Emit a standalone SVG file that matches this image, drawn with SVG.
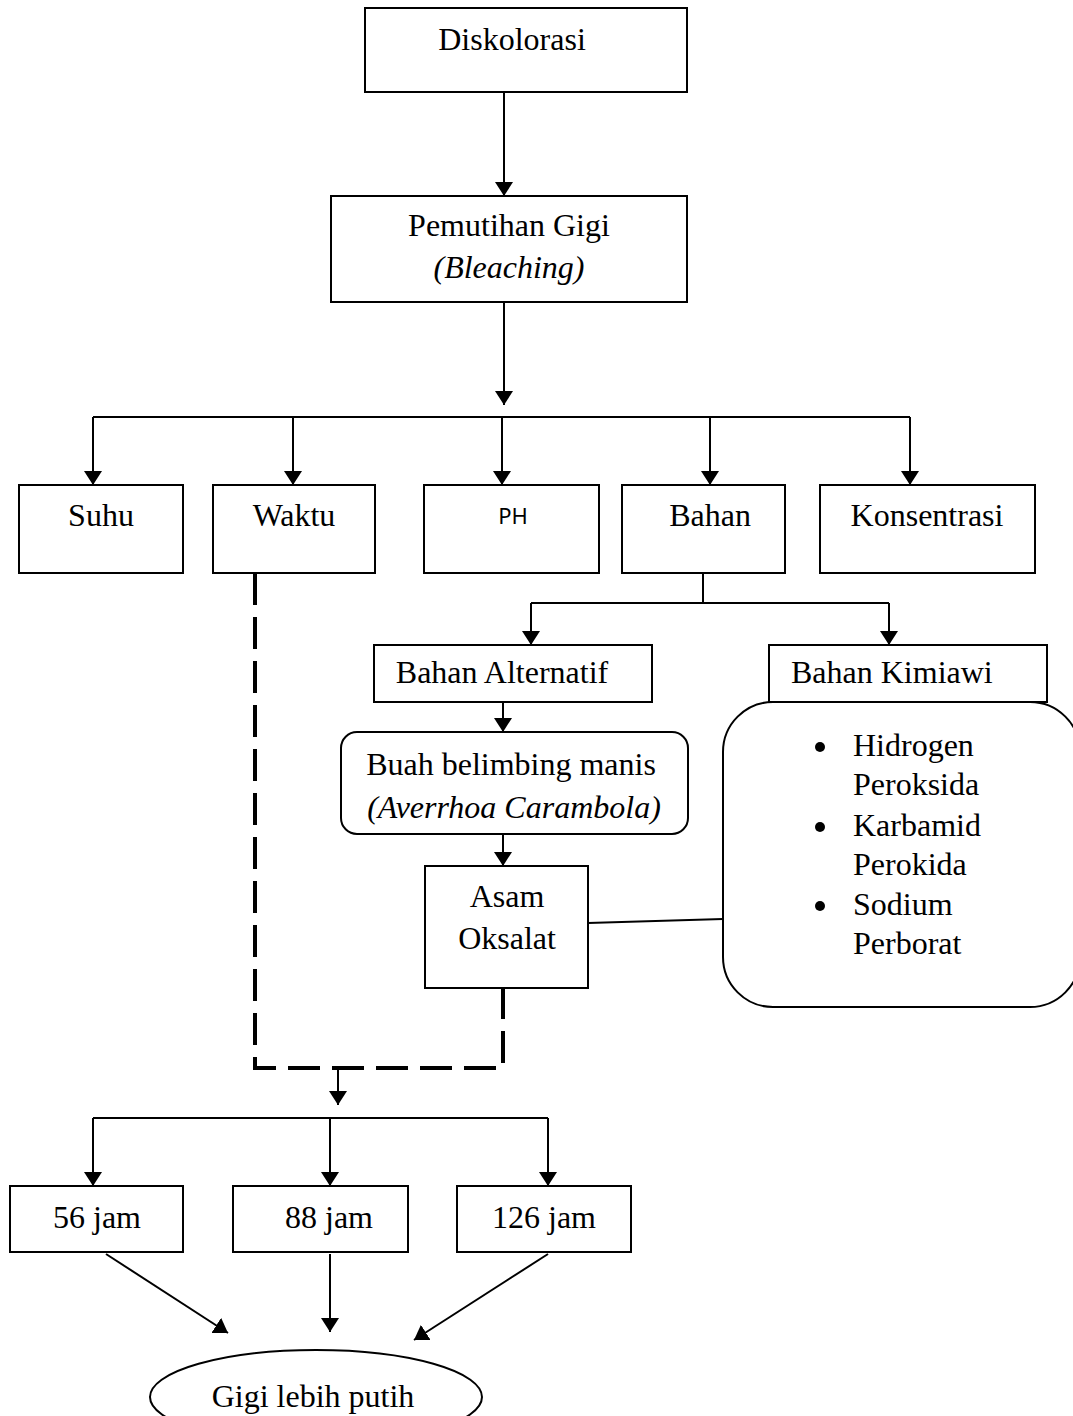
<svg xmlns="http://www.w3.org/2000/svg" width="1073" height="1416" viewBox="0 0 1073 1416">
<defs>
<marker id="ah" viewBox="0 0 14 18" refX="14" refY="9" markerWidth="14" markerHeight="18" markerUnits="userSpaceOnUse" orient="auto">
<path d="M0,0 L14,9 L0,18 Z" fill="#000"/>
</marker>
<style>
.box{fill:#fff;stroke:#000;stroke-width:2}
.t{font-family:"Liberation Serif","Times New Roman",serif;font-size:32px;fill:#000}
.c{text-anchor:middle}
.i{font-style:italic}
.s{font-family:"Noto Sans","Liberation Sans",sans-serif;font-size:22px;fill:#000}
.ln{fill:none;stroke:#000;stroke-width:2}
.ar{fill:none;stroke:#000;stroke-width:2;marker-end:url(#ah)}
.dash{fill:none;stroke:#000;stroke-width:4;stroke-dasharray:32,12}
</style>
</defs>
<rect width="1073" height="1416" fill="#fff"/>
<g id="connectors">
<line class="ar" x1="504" y1="92" x2="504" y2="196"/>
<line class="ar" x1="504" y1="302" x2="504" y2="405"/>
<polyline class="ln" points="93,417 910,417"/>
<line class="ar" x1="93" y1="417" x2="93" y2="485"/>
<line class="ar" x1="293" y1="417" x2="293" y2="485"/>
<line class="ar" x1="502" y1="417" x2="502" y2="485"/>
<line class="ar" x1="710" y1="417" x2="710" y2="485"/>
<line class="ar" x1="910" y1="417" x2="910" y2="485"/>
<polyline class="ln" points="703,573 703,603"/>
<polyline class="ln" points="531,603 889,603"/>
<line class="ar" x1="531" y1="603" x2="531" y2="645"/>
<line class="ar" x1="889" y1="603" x2="889" y2="645"/>
<line class="ar" x1="503" y1="702" x2="503" y2="732"/>
<line class="ar" x1="503" y1="834" x2="503" y2="866"/>
<line class="ln" x1="588" y1="923" x2="723" y2="919"/>
<polyline class="dash" points="255,573 255,1068 503,1068 503,988"/>
<line class="ar" x1="338" y1="1068" x2="338" y2="1105"/>
<polyline class="ln" points="93,1118 548,1118"/>
<line class="ar" x1="93" y1="1118" x2="93" y2="1186"/>
<line class="ar" x1="330" y1="1118" x2="330" y2="1186"/>
<line class="ar" x1="548" y1="1118" x2="548" y2="1186"/>
<line class="ar" x1="106" y1="1254" x2="228" y2="1333"/>
<line class="ar" x1="330" y1="1254" x2="330" y2="1332"/>
<line class="ar" x1="548" y1="1254" x2="414" y2="1340"/>
</g>
<g id="n-diskolorasi"><rect class="box" x="365" y="8" width="322" height="84"/><text class="t c" x="512" y="50">Diskolorasi</text></g>
<g id="n-pemutihan"><rect class="box" x="331" y="196" width="356" height="106"/><text class="t c" x="509" y="236">Pemutihan Gigi</text><text class="t c i" x="509" y="278">(Bleaching)</text></g>
<g id="n-suhu"><rect class="box" x="19" y="485" width="164" height="88"/><text class="t c" x="101" y="526">Suhu</text></g>
<g id="n-waktu"><rect class="box" x="213" y="485" width="162" height="88"/><text class="t c" x="294" y="526">Waktu</text></g>
<g id="n-ph"><rect class="box" x="424" y="485" width="175" height="88"/><text class="s c" x="513" y="524">PH</text></g>
<g id="n-bahan"><rect class="box" x="622" y="485" width="163" height="88"/><text class="t c" x="710" y="526">Bahan</text></g>
<g id="n-konsentrasi"><rect class="box" x="820" y="485" width="215" height="88"/><text class="t c" x="927" y="526">Konsentrasi</text></g>
<g id="n-alternatif"><rect class="box" x="374" y="645" width="278" height="57"/><text class="t c" x="502" y="683">Bahan Alternatif</text></g>
<g id="n-kimiawi"><rect class="box" x="769" y="645" width="278" height="57"/><text class="t" x="791" y="683">Bahan Kimiawi</text></g>
<g id="n-list"><rect class="box" x="723" y="702" width="357" height="305" rx="50" ry="50"/>
<circle cx="820" cy="747" r="5"/><circle cx="820" cy="827" r="5"/><circle cx="820" cy="906" r="5"/>
<text class="t" x="853" y="756">Hidrogen</text><text class="t" x="853" y="795">Peroksida</text>
<text class="t" x="853" y="836">Karbamid</text><text class="t" x="853" y="875">Perokida</text>
<text class="t" x="853" y="915">Sodium</text><text class="t" x="853" y="954">Perborat</text></g>
<g id="n-buah"><rect class="box" x="341" y="732" width="347" height="102" rx="16" ry="16"/><text class="t c" x="511" y="775">Buah belimbing manis</text><text class="t c i" x="514" y="818">(Averrhoa Carambola)</text></g>
<g id="n-asam"><rect class="box" x="425" y="866" width="163" height="122"/><text class="t c" x="507" y="907">Asam</text><text class="t c" x="507" y="949">Oksalat</text></g>
<g id="n-56"><rect class="box" x="10" y="1186" width="173" height="66"/><text class="t c" x="97" y="1228">56 jam</text></g>
<g id="n-88"><rect class="box" x="233" y="1186" width="175" height="66"/><text class="t c" x="329" y="1228">88 jam</text></g>
<g id="n-126"><rect class="box" x="457" y="1186" width="174" height="66"/><text class="t c" x="544" y="1228">126 jam</text></g>
<g id="n-gigi"><ellipse class="box" cx="316" cy="1397" rx="166" ry="47"/><text class="t c" x="313" y="1407">Gigi lebih putih</text></g>
</svg>
